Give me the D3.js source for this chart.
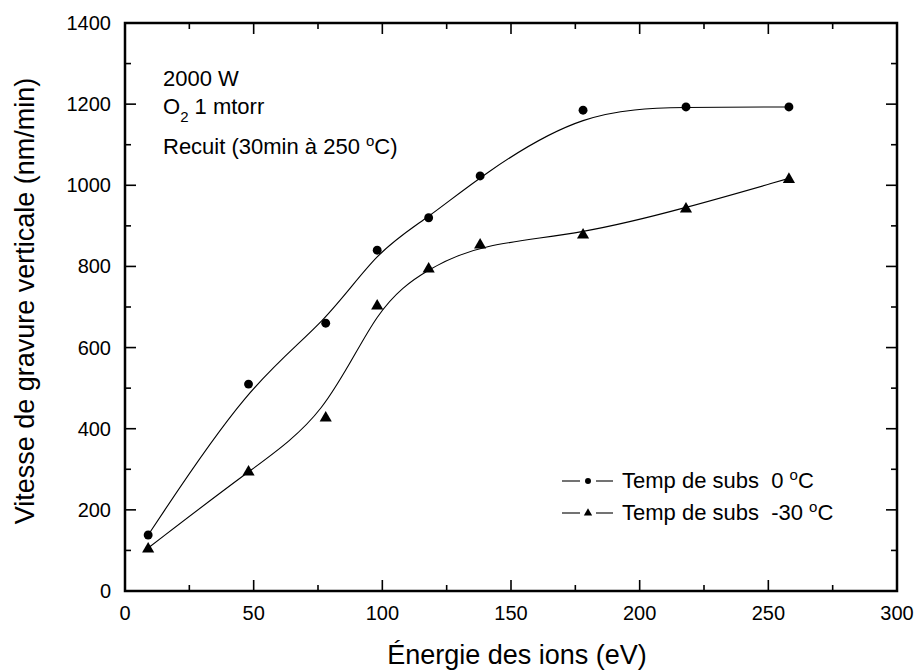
<!DOCTYPE html>
<html>
<head>
<meta charset="utf-8">
<script src="https://cdn.jsdelivr.net/npm/d3@7"></script>
<style>
  html, body { margin: 0; padding: 0; background: #fff; }
  svg { display: block; font-family: "Liberation Sans", Arial, sans-serif; }
  text { white-space: pre; }
</style>
</head>
<body>
<svg id="chart" width="917" height="671"></svg>
<script>
// ---- data ----
const energies = [9, 48, 78, 98, 118, 138, 178, 218, 258];
const rate0C   = [138, 510, 660, 840, 920, 1023, 1185, 1193, 1193];
const rateM30C = [106, 296, 429, 705, 796, 855, 880, 944, 1017];
const xTicks = [0, 50, 100, 150, 200, 250, 300];
const yTicks = [0, 200, 400, 600, 800, 1000, 1200, 1400];
const seriesNames = ["Temp de subs  0 ", "Temp de subs  -30 "];

const svg = d3.select("#chart");
const L = 125, R = 897, T = 23, B = 591;
const x = d3.scaleLinear().domain([0, 300]).range([L, R]);
const y = d3.scaleLinear().domain([0, 1400]).range([B, T]);

const minorX = d3.range(25, 300, 50);
const minorY = d3.range(100, 1400, 200);
const MAJ = 11, MIN = 6;

// ticks
const tg = svg.append("g").attr("stroke", "#000").attr("stroke-width", 1.6);
xTicks.forEach(v => {
  tg.append("line").attr("x1", x(v)).attr("x2", x(v)).attr("y1", B).attr("y2", B - MAJ);
  tg.append("line").attr("x1", x(v)).attr("x2", x(v)).attr("y1", T).attr("y2", T + MAJ);
});
minorX.forEach(v => {
  tg.append("line").attr("x1", x(v)).attr("x2", x(v)).attr("y1", B).attr("y2", B - MIN);
  tg.append("line").attr("x1", x(v)).attr("x2", x(v)).attr("y1", T).attr("y2", T + MIN);
});
yTicks.forEach(v => {
  tg.append("line").attr("y1", y(v)).attr("y2", y(v)).attr("x1", L).attr("x2", L + MAJ);
  tg.append("line").attr("y1", y(v)).attr("y2", y(v)).attr("x1", R).attr("x2", R - MAJ);
});
minorY.forEach(v => {
  tg.append("line").attr("y1", y(v)).attr("y2", y(v)).attr("x1", L).attr("x2", L + MIN);
  tg.append("line").attr("y1", y(v)).attr("y2", y(v)).attr("x1", R).attr("x2", R - MIN);
});

// frame
svg.append("rect").attr("x", L).attr("y", T).attr("width", R - L).attr("height", B - T)
  .attr("fill", "none").attr("stroke", "#000").attr("stroke-width", 2.5);

// tick labels
svg.append("g").selectAll("text").data(xTicks).join("text")
  .attr("x", d => x(d)).attr("y", 620).attr("text-anchor", "middle")
  .attr("font-size", 20).text(d => d);
svg.append("g").selectAll("text").data(yTicks).join("text")
  .attr("x", 111).attr("y", d => y(d) + 7).attr("text-anchor", "end")
  .attr("font-size", 20).text(d => d);

// axis titles
svg.append("text").attr("x", (L + R) / 2 + 6).attr("y", 664).attr("text-anchor", "middle")
  .attr("font-size", 27).text("Énergie des ions (eV)");
svg.append("text").attr("transform", `translate(34,${(T + B) / 2 - 6}) rotate(-90)`)
  .attr("text-anchor", "middle").attr("font-size", 27)
  .text("Vitesse de gravure verticale (nm/min)");

// curves
const line = d3.line().x(d => x(d[0])).y(d => y(d[1])).curve(d3.curveBasis);
const s0 = energies.map((e, i) => [e, rate0C[i]]);
const s1 = energies.map((e, i) => [e, rateM30C[i]]);
svg.append("path").attr("d", line(s0)).attr("fill", "none").attr("stroke", "#000").attr("stroke-width", 1.1);
svg.append("path").attr("d", line(s1)).attr("fill", "none").attr("stroke", "#000").attr("stroke-width", 1.1);

// markers
const tri = d3.symbol().type(d3.symbolTriangle).size(64);
const circ = d3.symbol().type(d3.symbolCircle).size(62);
svg.append("g").selectAll("path").data(s0).join("path")
  .attr("transform", d => `translate(${x(d[0])},${y(d[1])})`).attr("d", circ()).attr("fill", "#000");
svg.append("g").selectAll("path").data(s1).join("path")
  .attr("transform", d => `translate(${x(d[0])},${y(d[1]) + 1})`).attr("d", tri()).attr("fill", "#000");

// annotation
const ann = svg.append("g").attr("font-size", 22);
ann.append("text").attr("x", 163).attr("y", 86).text("2000 W");
const o2 = ann.append("text").attr("x", 163).attr("y", 114);
o2.append("tspan").text("O");
o2.append("tspan").attr("font-size", 15).attr("dy", 8).text("2");
o2.append("tspan").attr("dy", -8).text(" 1 mtorr");
const rc = ann.append("text").attr("x", 163).attr("y", 154);
rc.append("tspan").text("Recuit (30min à 250 ");
rc.append("tspan").attr("font-size", 15).attr("dy", -8).text("o");
rc.append("tspan").attr("dy", 8).text("C)");

// legend
const legY = [481, 513];
const legMarkers = [d3.symbol().type(d3.symbolCircle).size(28), d3.symbol().type(d3.symbolTriangle).size(30)];
seriesNames.forEach((name, i) => {
  const g = svg.append("g");
  g.append("line").attr("x1", 562).attr("x2", 580).attr("y1", legY[i]).attr("y2", legY[i])
    .attr("stroke", "#000").attr("stroke-width", 1.1);
  g.append("line").attr("x1", 596).attr("x2", 613).attr("y1", legY[i]).attr("y2", legY[i])
    .attr("stroke", "#000").attr("stroke-width", 1.1);
  g.append("path").attr("transform", `translate(588,${legY[i]})`).attr("d", legMarkers[i]()).attr("fill", "#000");
  const t = g.append("text").attr("x", 622).attr("y", legY[i] + 7).attr("font-size", 22);
  t.append("tspan").text(name);
  t.append("tspan").attr("font-size", 15).attr("dy", -8).text("o");
  t.append("tspan").attr("dy", 8).text("C");
});
</script>
</body>
</html>
